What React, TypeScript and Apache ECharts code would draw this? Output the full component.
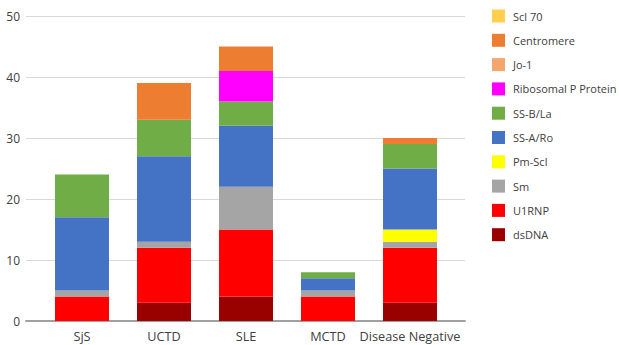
import React, { useEffect, useRef } from "react";
import * as echarts from "echarts";

const categories = ["SjS", "UCTD", "SLE", "MCTD", "Disease Negative"];
const yTicks = [0, 10, 20, 30, 40, 50];

const dsDNA = [0, 3, 4, 0, 3];
const U1RNP = [4, 9, 11, 4, 9];
const Sm = [1, 1, 7, 1, 1];
const PmScl = [0, 0, 0, 0, 2];
const SSARo = [12, 14, 10, 2, 10];
const SSBLa = [7, 6, 4, 1, 4];
const RibosomalP = [0, 0, 5, 0, 0];
const Jo1 = [0, 0, 0, 0, 0];
const Centromere = [0, 6, 4, 0, 1];
const Scl70 = [0, 0, 0, 0, 0];

const seriesDefs = [
  { name: "dsDNA", data: dsDNA, color: "#990000" },
  { name: "U1RNP", data: U1RNP, color: "#FF0000" },
  { name: "Sm", data: Sm, color: "#A5A5A5" },
  { name: "Pm-Scl", data: PmScl, color: "#FFFF00" },
  { name: "SS-A/Ro", data: SSARo, color: "#4472C4" },
  { name: "SS-B/La", data: SSBLa, color: "#70AD47" },
  { name: "Ribosomal P Protein", data: RibosomalP, color: "#FF00FF" },
  { name: "Jo-1", data: Jo1, color: "#F3A66E" },
  { name: "Centromere", data: Centromere, color: "#ED7D31" },
  { name: "Scl 70", data: Scl70, color: "#FFD04D" },
];

const FONT = "'Open Sans', 'Liberation Sans', Arial, sans-serif";

export default function App() {
  const ref = useRef<HTMLDivElement>(null);
  useEffect(() => {
    if (!ref.current) return;
    const chart = echarts.init(ref.current, null, { renderer: "svg" });
    chart.setOption({
      animation: false,
      backgroundColor: "#ffffff",
      textStyle: { fontFamily: FONT },
      legend: {
        orient: "vertical",
        left: 487,
        top: 4.5,
        itemWidth: 13,
        itemHeight: 13,
        itemGap: 11.3,
        icon: "rect",
        data: seriesDefs.map((s) => s.name).reverse(),
        textStyle: {
          fontFamily: FONT,
          fontSize: 11,
          color: "#404040",
          lineHeight: 13,
          padding: [0, 0, 0, 3],
        },
      },
      grid: [
        { left: 26, right: 154, top: 16, bottom: 24 },
        { left: 41, right: 168, top: 16, bottom: 24 },
      ],
      xAxis: [
        {
          type: "category",
          gridIndex: 0,
          data: [""],
          axisLine: { show: true, lineStyle: { color: "#A0A0A0", width: 2 } },
          axisTick: { show: false },
          axisLabel: { show: false },
        },
        {
          type: "category",
          gridIndex: 1,
          data: categories,
          axisLine: { show: false },
          axisTick: { show: false },
          axisLabel: {
            fontFamily: FONT,
            fontSize: 12.7,
            color: "#404040",
            margin: 8,
            interval: 0,
          },
        },
      ],
      yAxis: [
        {
          type: "value",
          gridIndex: 0,
          min: yTicks[0],
          max: yTicks[yTicks.length - 1],
          interval: 10,
          axisLine: { show: false },
          axisTick: { show: false },
          axisLabel: { fontFamily: FONT, fontSize: 12, color: "#404040", margin: 6 },
          splitLine: { lineStyle: { color: "#D9D9D9", width: 1 } },
        },
        {
          type: "value",
          gridIndex: 1,
          min: yTicks[0],
          max: yTicks[yTicks.length - 1],
          interval: 10,
          show: false,
          splitLine: { show: false },
        },
      ],
      series: seriesDefs.map((s) => ({
        name: s.name,
        type: "bar",
        stack: "total",
        xAxisIndex: 1,
        yAxisIndex: 1,
        barWidth: 54,
        data: s.data,
        itemStyle: { color: s.color },
        emphasis: { disabled: true },
      })),
    });
    return () => chart.dispose();
  }, []);
  return <div ref={ref} style={{ width: 619, height: 345, position: "absolute", left: 0, top: 0 }} />;
}
